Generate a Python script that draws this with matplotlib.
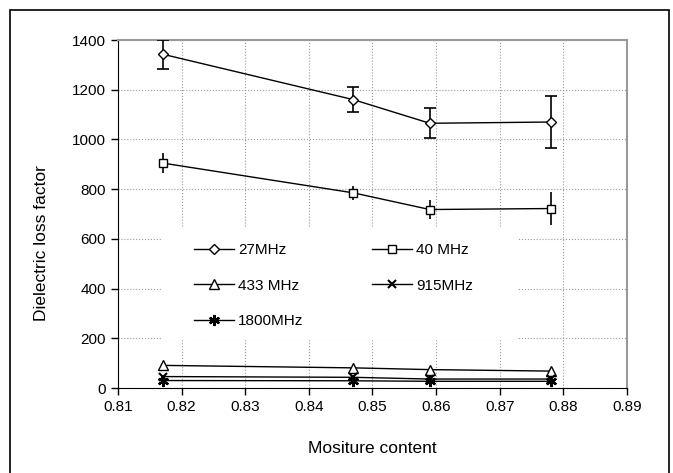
import matplotlib.pyplot as plt
from matplotlib.lines import Line2D
from matplotlib.patches import Rectangle

plt.rcParams['font.family'] = ['Liberation Sans', 'DejaVu Sans']

moisture = [0.817, 0.847, 0.859, 0.878]
f27 = [1343, 1160, 1065, 1070]
f27_err = [59, 49, 60, 104]
f40 = [905, 785, 718, 722]
f40_err = [42, 29, 40, 67]
f433 = [91, 81, 74, 68]
f915 = [46, 43, 36, 36]
f1800 = [30, 29, 27, 27]

star = (6, 2, 0)  # excel-like asterisk

fig = plt.figure(figsize=(6.73, 4.73), dpi=100)
ax = fig.add_axes([118 / 673, 85 / 473, 509 / 673, 348 / 473])

ax.errorbar(moisture, f27, yerr=f27_err, color='black', lw=1, marker='D', ms=5.5,
            mfc='white', mec='black', capsize=4.5, elinewidth=1.2, capthick=1.2, zorder=3)
ax.errorbar(moisture, f40, yerr=f40_err, color='black', lw=1, marker='s', ms=6,
            mfc='white', mec='black', capsize=0, elinewidth=1.2, zorder=3)
ax.plot(moisture, f433, color='black', lw=1, marker='^', ms=6.5, mfc='white', mec='black', zorder=3)
ax.plot(moisture, f915, color='black', lw=1, marker='x', ms=6, mew=1.5, zorder=3)
ax.plot(moisture, f1800, color='black', lw=1, marker=star, ms=8, mew=1.6, zorder=3)

ax.set_xlim(0.81, 0.89)
ax.set_ylim(0, 1400)
ax.set_xticks([0.81, 0.82, 0.83, 0.84, 0.85, 0.86, 0.87, 0.88, 0.89])
ax.set_yticks(range(0, 1401, 200))
ax.grid(True, color='#999999', linestyle=':', linewidth=0.8)
ax.tick_params(labelsize=11, direction='out', length=5, width=1)
for s in ['top', 'right']:
    ax.spines[s].set_color('#999999')
    ax.spines[s].set_linewidth(1.5)
for s in ['left', 'bottom']:
    ax.spines[s].set_color('black')

ax.set_xlabel('Mositure content', fontsize=12.5)
ax.xaxis.set_label_coords(0.5, -(448 - 388) / 348, transform=ax.transAxes)
ax.xaxis.label.set_va('center')
ax.set_ylabel('Dielectric loss factor', fontsize=12.5)
ax.yaxis.set_label_coords(-(118 - 42) / 509, (388 - 243) / 348)
ax.yaxis.label.set_va('center')

# white legend area hides the gridlines
ax.add_patch(Rectangle((161 / 673, 1 - 339 / 473), 356 / 673, 111 / 473,
                       transform=fig.transFigure, facecolor='white',
                       edgecolor='none', zorder=2))

# legend in excel order (filled column-wise: 27, 433, 1800 | 40, 915)
handles = [
    Line2D([], [], color='black', lw=1, marker='D', ms=5.5, mfc='white', mec='black'),
    Line2D([], [], color='black', lw=1, marker='^', ms=6.5, mfc='white', mec='black'),
    Line2D([], [], color='black', lw=1, marker=star, ms=8, mew=1.6),
    Line2D([], [], color='black', lw=1, marker='s', ms=6, mfc='white', mec='black'),
    Line2D([], [], color='black', lw=1, marker='x', ms=6, mew=1.5),
]
labels = ['27MHz', '433 MHz', '1800MHz', '40 MHz', '915MHz']
leg = ax.legend(handles, labels, ncol=2, frameon=False, fontsize=11, loc='upper left',
                bbox_to_anchor=(194 / 673, 1 - 243.5 / 473), bbox_transform=fig.transFigure,
                borderpad=0, borderaxespad=0, columnspacing=4.5, labelspacing=1.39,
                handlelength=2.6, handletextpad=0.27)
leg.set_zorder(4)

fig.patches.append(Rectangle((10 / 673, -0.02), 659 / 673, 1.02 - 10 / 473,
                             transform=fig.transFigure, fill=False,
                             edgecolor='black', lw=1.2))

fig.savefig('out.png', dpi=100)
